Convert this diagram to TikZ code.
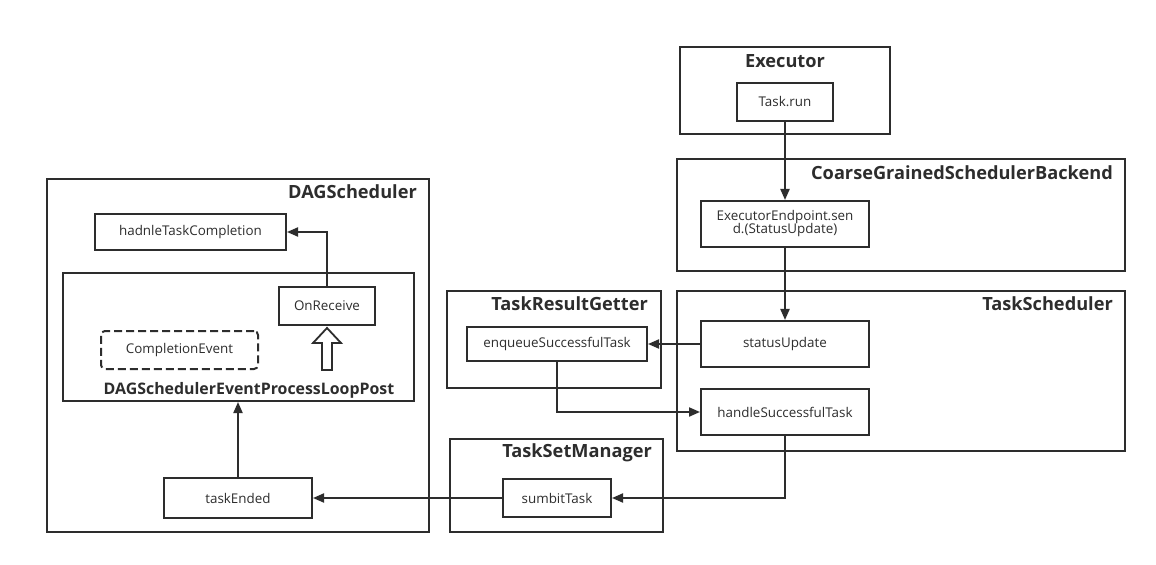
\documentclass[tikz,border=0pt]{standalone}
\usepackage{fontspec}
\setmainfont{Open Sans}
\usetikzlibrary{arrows.meta}
\definecolor{ink}{RGB}{45,45,45}
\tikzset{
  box/.style={draw=ink, line width=2bp, inner sep=0pt, text=ink, font=\fontsize{13.4bp}{15bp}\selectfont, align=center},
  container/.style={draw=ink, line width=2bp, inner sep=0pt},
  title/.style={text=ink, font=\fontsize{18.2bp}{21bp}\selectfont\bfseries, inner sep=0pt},
  looptitle/.style={text=ink, font=\fontsize{15.9bp}{19bp}\selectfont\bfseries, inner sep=0pt},
  conn/.style={draw=ink, line width=2bp, -{Triangle[length=11bp,width=9bp]}},
}
\begin{document}
\begin{tikzpicture}[x=1bp,y=-1bp]
\useasboundingbox[fill=white] (0,0) rectangle (1156,565);
% containers
\node[container, minimum width=210bp, minimum height=87bp] (exec) at (785,90.5) {};
\node[title] (exect) at (785,61) {Executor};
\node[container, minimum width=448bp, minimum height=112bp] (cgsb) at (901,215) {};
\node[title, anchor=east] (cgsbt) at (1113,173) {CoarseGrainedSchedulerBackend};
\node[container, minimum width=448bp, minimum height=160bp] (ts) at (901,371) {};
\node[title, anchor=east] (tst) at (1113,304) {TaskScheduler};
\node[container, minimum width=214bp, minimum height=97bp] (trg) at (554,339.5) {};
\node[title, anchor=east] (trgt) at (648,304) {TaskResultGetter};
\node[container, minimum width=213bp, minimum height=93bp] (tsm) at (556.5,485.5) {};
\node[title, anchor=east] (tsmt) at (652,453) {TaskSetManager};
\node[container, minimum width=382bp, minimum height=353bp] (dag) at (238,355.5) {};
\node[title, anchor=east] (dagt) at (417,192) {DAGScheduler};
\node[container, minimum width=351bp, minimum height=128bp] (loop) at (238.5,337) {};
\node[looptitle] (loopt) at (249,390) {DAGSchedulerEventProcessLoopPost};
% boxes
\node[box, minimum width=96bp, minimum height=38bp] (taskrun) at (785,102) {Task.run};
\node[box, minimum width=168bp, minimum height=46bp] (ee) at (785,224) {ExecutorEndpoint.sen\\[-2bp]d.(StatusUpdate)};
\node[box, minimum width=168bp, minimum height=46bp] (su) at (785,344) {statusUpdate};
\node[box, minimum width=168bp, minimum height=46bp] (hst) at (785,412) {handleSuccessfulTask};
\node[box, minimum width=180bp, minimum height=34bp] (enq) at (557,344) {enqueueSuccessfulTask};
\node[box, minimum width=108bp, minimum height=38bp] (sub) at (557,498) {sumbitTask};
\node[box, minimum width=191bp, minimum height=36bp] (htc) at (190.5,232) {hadnleTaskCompletion};
\node[box, minimum width=96bp, minimum height=38bp] (onr) at (327,306) {OnReceive};
\node[box, minimum width=157bp, minimum height=38bp, dash pattern=on 8bp off 4bp, rounded corners=4bp] (ce) at (179.5,350) {CompletionEvent};
\node[box, minimum width=148bp, minimum height=40bp] (te) at (238,498) {taskEnded};
% connectors
\draw[conn] (taskrun.south) -- (ee.north);
\draw[conn] (ee.south) -- (su.north);
\draw[conn] (su.west) -- (enq.east);
\draw[conn] (enq.south) |- (hst.west);
\draw[conn] (hst.south) |- (sub.east);
\draw[conn] (sub.west) -- (te.east);
\draw[conn] (te.north) -- (te.north |- loop.south);
\draw[conn] (onr.north) |- (htc.east);
% hollow arrow
\draw[draw=ink, line width=1.8bp, fill=white, line join=miter]
  (322,370) -- (332,370) -- (332,343) -- (341,343) -- (327,328) -- (313,343) -- (322,343) -- cycle;
\end{tikzpicture}
\end{document}
